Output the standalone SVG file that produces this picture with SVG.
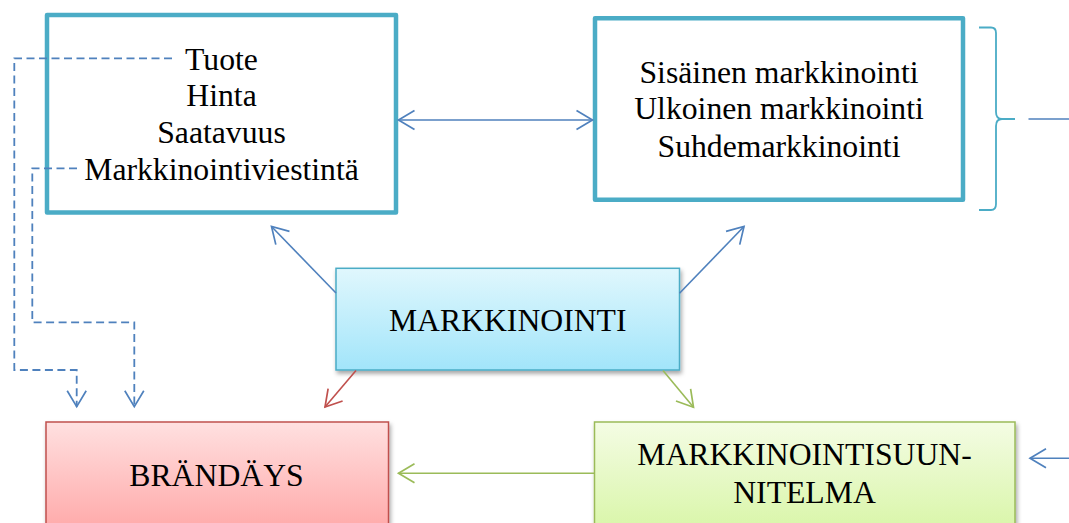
<svg xmlns="http://www.w3.org/2000/svg" width="1069" height="523" viewBox="0 0 1069 523">
<style>
  text { font-family: "Liberation Serif", "Times New Roman", serif; font-size: 31.7px; fill: #000; text-anchor: middle; }
  .frame { fill: #fff; stroke: #4BACC6; stroke-width: 4.5; stroke-linejoin: round; }
  .conn { fill: none; stroke-width: 1.6; }
  .blue { stroke: #4F81BD; }
  .red { stroke: #C0504D; }
  .green { stroke: #9BBB59; }
  .dash { stroke-dasharray: 8 4.5; stroke-width: 1.8; }
</style>
<defs>
  <linearGradient id="gCyan" x1="0" y1="0" x2="0" y2="1">
    <stop offset="0" stop-color="#E0F7FD"/>
    <stop offset="1" stop-color="#A2E5FA"/>
  </linearGradient>
  <linearGradient id="gRed" x1="0" y1="0" x2="0" y2="1">
    <stop offset="0" stop-color="#FFE0E0"/>
    <stop offset="1" stop-color="#FFA3A3"/>
  </linearGradient>
  <linearGradient id="gGreen" x1="0" y1="0" x2="0" y2="1">
    <stop offset="0" stop-color="#F4FCE4"/>
    <stop offset="1" stop-color="#D6F5A2"/>
  </linearGradient>
  <filter id="shadow" x="-10%" y="-10%" width="130%" height="140%">
    <feDropShadow dx="1.5" dy="3" stdDeviation="2" flood-color="#000" flood-opacity="0.35"/>
  </filter>
  <marker id="aBlue" viewBox="-19 -12 22 24" markerWidth="22" markerHeight="24" refX="0" refY="0" markerUnits="userSpaceOnUse" orient="auto-start-reverse">
    <path d="M -16,-9.5 L 0,0 L -16,9.5" fill="none" stroke="#4F81BD" stroke-width="1.7"/>
  </marker>
  <marker id="aRed" viewBox="-19 -12 22 24" markerWidth="22" markerHeight="24" refX="0" refY="0" markerUnits="userSpaceOnUse" orient="auto">
    <path d="M -16,-9.5 L 0,0 L -16,9.5" fill="none" stroke="#C0504D" stroke-width="1.7"/>
  </marker>
  <marker id="aGreen" viewBox="-19 -12 22 24" markerWidth="22" markerHeight="24" refX="0" refY="0" markerUnits="userSpaceOnUse" orient="auto">
    <path d="M -16,-9.5 L 0,0 L -16,9.5" fill="none" stroke="#9BBB59" stroke-width="1.7"/>
  </marker>
</defs>

<g id="mix">
  <rect class="frame" x="47" y="15" width="349" height="197.5"/>
  <text x="221.5" y="69.5">Tuote</text>
  <text x="221.5" y="106">Hinta</text>
  <text x="221.5" y="143">Saatavuus</text>
  <text x="221.5" y="180">Markkinointiviestintä</text>
</g>

<g id="types">
  <rect class="frame" x="595" y="18.3" width="368" height="181.5"/>
  <text x="779" y="82.7">Sisäinen markkinointi</text>
  <text x="779" y="119.3">Ulkoinen markkinointi</text>
  <text x="779" y="156.7">Suhdemarkkinointi</text>
</g>

<g id="brace">
  <path d="M 979,27.5 L 991,27.5 Q 996,27.5 996,33 L 996,112 Q 996,119 1002,119 L 1015,119 M 1002,119 Q 996,119 996,126 L 996,204 Q 996,210 991,210 L 979,210" fill="none" stroke="#4BACC6" stroke-width="1.8"/>
</g>

<g id="markkinointi">
  <rect x="336" y="268.3" width="343.5" height="101.7" fill="url(#gCyan)" stroke="#4BACC6" stroke-width="1.5" filter="url(#shadow)"/>
  <text x="507.7" y="330.7">MARKKINOINTI</text>
</g>

<g id="brandays">
  <rect x="46" y="422" width="342.5" height="120" fill="url(#gRed)" stroke="#C0504D" stroke-width="1.5" filter="url(#shadow)"/>
  <text x="216.5" y="486">BRÄNDÄYS</text>
</g>

<g id="suunnitelma">
  <rect x="594.5" y="422" width="420.5" height="120" fill="url(#gGreen)" stroke="#9BBB59" stroke-width="1.5" filter="url(#shadow)"/>
  <text x="804.5" y="465">MARKKINOINTISUUN-</text>
  <text x="804.5" y="502.7">NITELMA</text>
</g>

<g id="connectors">
  <line class="conn blue" x1="398.5" y1="120" x2="592.5" y2="120" marker-start="url(#aBlue)" marker-end="url(#aBlue)"/>
  <line class="conn blue" x1="336" y1="293" x2="271.5" y2="226.5" marker-end="url(#aBlue)"/>
  <line class="conn blue" x1="679.5" y1="293.3" x2="744" y2="226.5" marker-end="url(#aBlue)"/>
  <line class="conn red" x1="356" y1="370.5" x2="325" y2="407" marker-end="url(#aRed)"/>
  <line class="conn green" x1="663" y1="370.5" x2="693.5" y2="407.3" marker-end="url(#aGreen)"/>
  <line class="conn green" x1="594.5" y1="473.3" x2="398.5" y2="473.3" marker-end="url(#aGreen)"/>
  <line class="conn blue" x1="1069" y1="458.3" x2="1030" y2="458.3" marker-end="url(#aBlue)"/>
  <line class="conn blue" x1="1028.5" y1="119" x2="1069" y2="119"/>
  <path class="conn blue dash" d="M 172,58.3 L 14.3,58.3 L 14.3,370 L 76.7,370 L 76.7,406.7" marker-end="url(#aBlue)"/>
  <path class="conn blue dash" d="M 77,168.3 L 32.3,168.3 L 32.3,322.3 L 134.3,322.3 L 134.3,406.7" marker-end="url(#aBlue)"/>
</g>
</svg>
